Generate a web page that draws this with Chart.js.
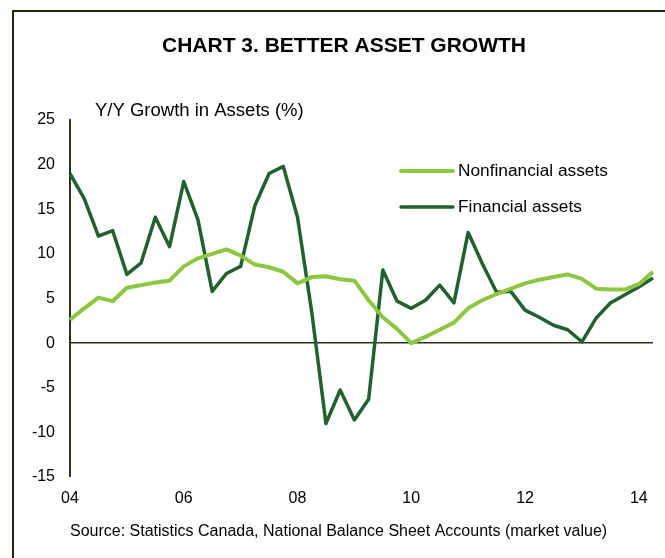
<!DOCTYPE html>
<html>
<head>
<meta charset="utf-8">
<script src="https://cdn.jsdelivr.net/npm/chart.js@4"></script>
<style>
html,body{margin:0;padding:0;background:#fff;}
#wrap{width:665px;height:558px;position:relative;}
</style>
</head>
<body>
<div id="wrap"><canvas id="c" width="665" height="558"></canvas></div>
<script>
const quarters = [];
for (let y = 4; y <= 14; y++) { for (let q = 1; q <= 4; q++) { quarters.push(String(y).padStart(2,'0') + 'Q' + q); } }
const categories = quarters.slice(0, 42);
const tickYears = ['04','06','08','10','12','14'];
const yTicks = [-15,-10,-5,0,5,10,15,20,25];

const nonfinancial = [2.6,3.9,5.1,4.7,6.2,6.5,6.8,7.0,8.6,9.5,10.0,10.5,9.8,8.8,8.5,8.0,
  6.7,7.4,7.5,7.15,7.0,4.8,2.9,1.6,0.0,0.7,1.5,2.3,3.9,4.8,5.5,6.1,6.7,7.1,7.4,7.7,7.2,6.1,6.0,6.0,6.6,8.0];
const financial = [19.0,16.2,12.0,12.6,7.7,9.0,14.1,10.8,18.1,13.8,5.8,7.8,8.6,15.4,19.0,19.8,
  14.1,3.5,-9.0,-5.25,-8.6,-6.3,8.2,4.7,3.9,4.8,6.5,4.5,12.4,8.9,5.7,5.8,3.7,2.9,2.0,1.5,0.15,2.8,4.5,5.4,6.3,7.3];

const FONT = '"Liberation Sans", Arial, sans-serif';
const LIGHT = '#8dc63f';
const DARK = '#22602f';
const AXIS = '#2a3320';

const decor = {
  id: 'decor',
  afterDraw(chart) {
    const ctx = chart.ctx;
    ctx.save();
    // frame (left and top)
    ctx.strokeStyle = '#1c2a10';
    ctx.lineWidth = 2;
    ctx.beginPath();
    ctx.moveTo(13, 558); ctx.lineTo(13, 11); ctx.lineTo(665, 11);
    ctx.stroke();
    ctx.fillStyle = '#000';
    ctx.textBaseline = 'middle';
    // title
    ctx.font = 'bold 21px ' + FONT;
    ctx.textAlign = 'center';
    ctx.fillText('CHART 3. BETTER ASSET GROWTH', 344, 46);
    // subtitle
    ctx.font = '18.5px ' + FONT;
    ctx.textAlign = 'left';
    ctx.fillText('Y/Y Growth in Assets (%)', 95, 111);
    // source
    ctx.font = '16px ' + FONT;
    ctx.fillText('Source: Statistics Canada, National Balance Sheet Accounts (market value)', 70, 532);
    // legend
    const ly = [171, 207];
    chart.data.datasets.forEach((ds, i) => {
      ctx.strokeStyle = ds.borderColor;
      ctx.lineWidth = ds.borderWidth;
      ctx.lineCap = 'round';
      ctx.beginPath();
      ctx.moveTo(401, ly[i]); ctx.lineTo(453, ly[i]);
      ctx.stroke();
      ctx.fillStyle = '#000';
      ctx.font = '17.3px ' + FONT;
      ctx.fillText(ds.label, 458, ly[i]);
    });
    ctx.restore();
  }
};

new Chart(document.getElementById('c'), {
  type: 'line',
  data: {
    labels: categories,
    datasets: [
      { label: 'Nonfinancial assets', data: nonfinancial, borderColor: LIGHT, backgroundColor: LIGHT, borderWidth: 4, pointRadius: 0, tension: 0, borderJoinStyle: 'round' },
      { label: 'Financial assets', data: financial, borderColor: DARK, backgroundColor: DARK, borderWidth: 3.5, pointRadius: 0, tension: 0, borderJoinStyle: 'round' }
    ]
  },
  options: {
    responsive: false,
    animation: false,
    devicePixelRatio: 1,
    layout: { padding: { top: 120, right: 8, bottom: 51, left: 0 } },
    plugins: { legend: { display: false }, title: { display: false }, tooltip: { enabled: false } },
    scales: {
      x: {
        offset: false,
        border: { display: false },
        grid: { display: false, drawTicks: false },
        afterFit(s) { s.height = 30; },
        ticks: {
          autoSkip: false, maxRotation: 0, minRotation: 0, padding: 12,
          color: '#000', font: { family: FONT, size: 16 },
          callback(v) {
            const l = categories[v];
            return (l.endsWith('Q1') && tickYears.includes(l.slice(0,2))) ? l.slice(0,2) : '';
          }
        }
      },
      y: {
        min: -15, max: 25,
        afterFit(s) { s.width = 70; },
        afterBuildTicks(s) { s.ticks = yTicks.map(v => ({ value: v })); },
        border: { display: true, color: AXIS, width: 2 },
        grid: {
          drawTicks: false,
          color: c => (c.tick && c.tick.value === 0) ? AXIS : 'rgba(0,0,0,0)',
          lineWidth: c => (c.tick && c.tick.value === 0) ? 1.5 : 0
        },
        ticks: { padding: 15, color: '#000', font: { family: FONT, size: 16 } }
      }
    }
  },
  plugins: [decor]
});
</script>
</body>
</html>
